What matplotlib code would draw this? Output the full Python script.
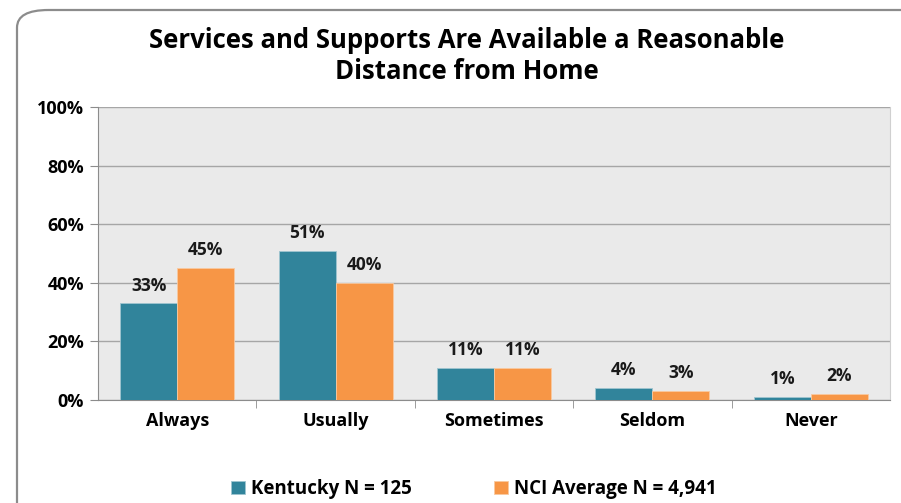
import matplotlib
matplotlib.use("Agg")
import matplotlib.pyplot as plt
from matplotlib.patches import FancyBboxPatch
import numpy as np

plt.rcParams['font.family'] = ['Open Sans', 'DejaVu Sans']

# data
categories = ["Always", "Usually", "Sometimes", "Seldom", "Never"]
kentucky = [33, 51, 11, 4, 1]
nci = [45, 40, 11, 3, 2]
series_names = ["Kentucky N = 125", "NCI Average N = 4,941"]
title = "Services and Supports Are Available a Reasonable\nDistance from Home"

teal = "#31849B"
orange = "#F79646"

fig = plt.figure(figsize=(9.01, 5.03), dpi=100)
W, H = 901, 503

# rounded frame around the chart (runs off the right/bottom edge)
frame = FancyBboxPatch((17 / W, -30 / H), 930 / W, (H - 10 + 30) / H,
                       boxstyle="round,pad=0,rounding_size=0.035",
                       transform=fig.transFigure, fill=False,
                       edgecolor="#8C8C8C", linewidth=1.6)
fig.patches.append(frame)

ax = fig.add_axes([98 / W, (H - 400) / H, (890 - 98) / W, (400 - 107) / H])
ax.set_facecolor("#EAEAEA")

x = np.arange(len(categories))
w = 0.36
b1 = ax.bar(x - w / 2, kentucky, w, color=teal, edgecolor="#9FC5D0", linewidth=0.6,
            label=series_names[0], zorder=3)
b2 = ax.bar(x + w / 2, nci, w, color=orange, edgecolor="#F9C9A0", linewidth=0.6,
            label=series_names[1], zorder=3)

for bars, vals in [(b1, kentucky), (b2, nci)]:
    for b, v in zip(bars, vals):
        ax.text(b.get_x() + b.get_width() / 2, v + 3, f"{v}%", ha="center", va="bottom",
                fontsize=12.5, fontweight="bold", color="#1A1A1A")

ax.set_xlim(-0.5, len(categories) - 0.5)
ax.set_ylim(0, 100)
ax.set_yticks(range(0, 101, 20))
ax.set_yticklabels([f"{t}%" for t in range(0, 101, 20)], fontsize=13, fontweight="bold")
ax.set_xticks(x)
ax.set_xticklabels(categories, fontsize=13, fontweight="bold")
ax.set_xticks(np.arange(0.5, len(categories) - 0.5, 1), minor=True)
ax.tick_params(axis="x", which="major", length=0, pad=9)
ax.tick_params(axis="x", which="minor", length=6, color="#8C8C8C", direction="out")
ax.tick_params(axis="y", length=6, color="#8C8C8C", pad=4)
ax.grid(axis="y", color="#A6A6A6", linewidth=1, zorder=0)

for s in ["top", "right"]:
    ax.spines[s].set_visible(False)
ax.spines["left"].set_color("#8C8C8C")
ax.spines["bottom"].set_color("#8C8C8C")
ax.spines["right"].set_visible(True)
ax.spines["right"].set_color("#D0D0D0")

fig.text(467 / W, 1 - 56 / H, title, ha="center", va="center", fontsize=18.5,
         fontweight="bold", linespacing=1.22)

leg = fig.legend(handles=[b1, b2], loc="center", bbox_to_anchor=(474 / W, 1 - 489 / H),
                 ncol=2, frameon=False, prop={"weight": "bold", "size": 13.5},
                 handlelength=0.75, handleheight=0.75, handletextpad=0.3, columnspacing=4.4)

fig.savefig("out.png", dpi=100)
